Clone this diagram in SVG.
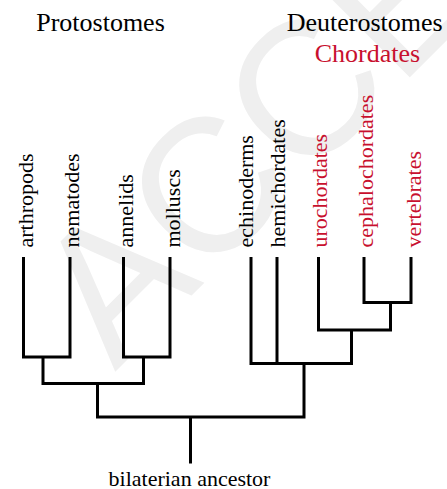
<svg xmlns="http://www.w3.org/2000/svg" width="447" height="489" viewBox="0 0 447 489">
<style>
.h{font-family:"Liberation Serif","Times New Roman",serif;font-size:26px;fill:#000}
.lb{font-family:"Liberation Serif","Times New Roman",serif;font-size:22px;fill:#000}
.red{fill:#c8102e}
.e{fill:none;stroke:#000;stroke-width:3;stroke-linejoin:miter;stroke-linecap:butt}
.wm{font-family:"Liberation Sans",Arial,sans-serif;font-size:190px;fill:#efefef}
</style>
<rect width="447" height="489" fill="#fff"/>
<text class="wm" transform="translate(115,372) rotate(-45)">ACCEPTED</text>
<g id="headings">
<text class="h" x="100.5" y="31" text-anchor="middle">Protostomes</text>
<text class="h" x="364.7" y="31" text-anchor="middle">Deuterostomes</text>
<text class="h red" x="367.5" y="61.5" text-anchor="middle">Chordates</text>
</g>
<g id="n-arthropods"><text class="lb" transform="translate(32.5,247.5) rotate(-90)">arthropods</text></g>
<g id="n-nematodes"><text class="lb" transform="translate(79,247.5) rotate(-90)">nematodes</text></g>
<g id="n-annelids"><text class="lb" transform="translate(132.5,247.5) rotate(-90)">annelids</text></g>
<g id="n-molluscs"><text class="lb" transform="translate(179.5,247.5) rotate(-90)">molluscs</text></g>
<g id="n-echinoderms"><text class="lb" transform="translate(252.5,247.5) rotate(-90)">echinoderms</text></g>
<g id="n-hemichordates"><text class="lb" transform="translate(284.5,247.5) rotate(-90)">hemichordates</text></g>
<g id="n-urochordates"><text class="lb red" transform="translate(326.5,247.5) rotate(-90)">urochordates</text></g>
<g id="n-cephalochordates"><text class="lb red" transform="translate(372.5,247.5) rotate(-90)">cephalochordates</text></g>
<g id="n-vertebrates"><text class="lb red" transform="translate(420.5,247.5) rotate(-90)">vertebrates</text></g>
<g id="n-root"><text class="lb" x="189.5" y="486" text-anchor="middle">bilaterian ancestor</text></g>
<g id="connectors">
<path class="e" d="M23.5 257V357H70V257"/>
<path class="e" d="M123.5 257V357H170V257"/>
<path class="e" d="M43 357V383.5H143.5V357"/>
<path class="e" d="M97.5 383.5V417H304V363.5"/>
<path class="e" d="M190.5 417V463.5"/>
<path class="e" d="M251 257V363.5H351.5V330"/>
<path class="e" d="M277 257V363.5"/>
<path class="e" d="M318.5 257V330H390.5V302.5"/>
<path class="e" d="M364 257V302.5H411V257"/>
</g>
</svg>
